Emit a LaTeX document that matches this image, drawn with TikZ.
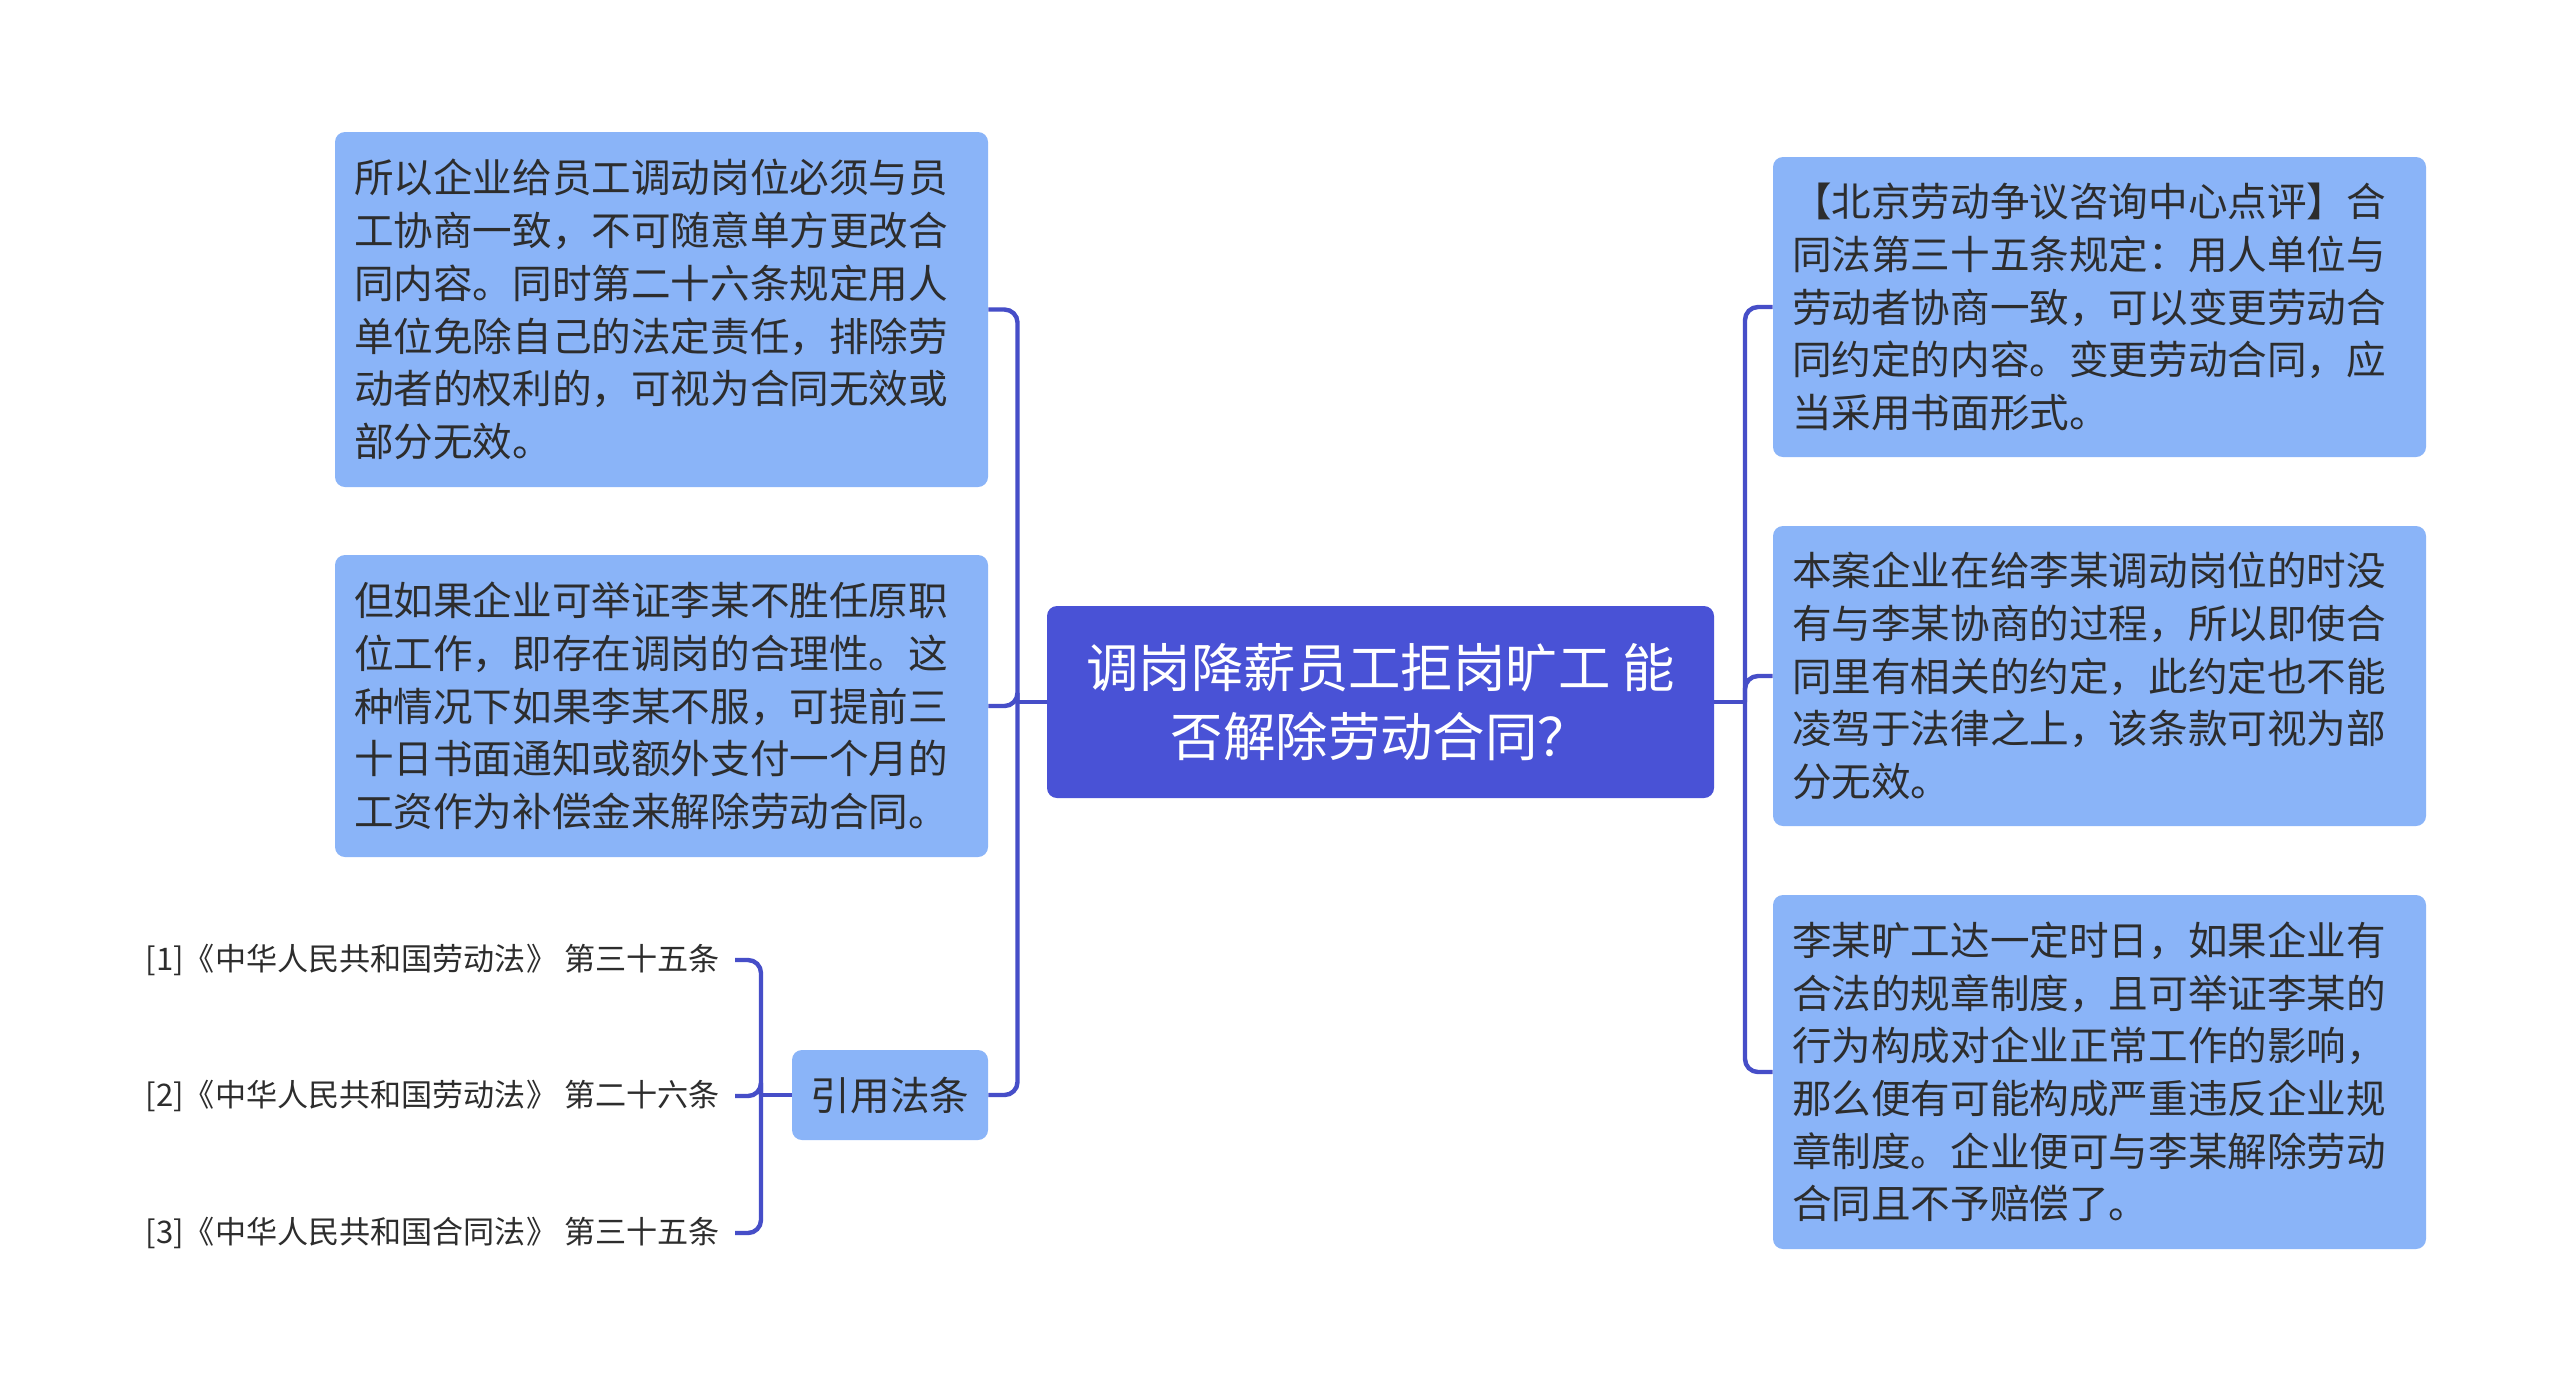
\documentclass[tikz,border=0pt]{standalone}
\usepackage{fontspec}
\setmainfont{Noto Sans CJK SC}
\definecolor{linec}{RGB}{70,78,200}
\definecolor{centerc}{RGB}{73,82,214}
\definecolor{boxc}{RGB}{138,180,248}
\definecolor{txtc}{RGB}{45,45,45}
\begin{document}
\begin{tikzpicture}[x=1pt,y=-1pt,
  conn/.style={draw=linec,line width=2.2pt,rounded corners=6.5pt},
  mainbox/.style={fill=centerc,rounded corners=5pt,minimum width=333.5pt,minimum height=96pt,
    text=white,align=center,inner sep=0pt,font=\fontsize{26.2pt}{34.3pt}\selectfont},
  leafbox/.style={fill=boxc,rounded corners=5pt,text width=307.5pt,inner xsep=9.5pt,inner ysep=0pt,
    text=txtc,align=left,font=\fontsize{19.8pt}{26.35pt}\selectfont},
  citebox/.style={fill=boxc,rounded corners=5pt,minimum width=98pt,minimum height=45pt,inner sep=0pt,
    text=txtc,font=\fontsize{19.8pt}{24pt}\selectfont},
  reftext/.style={anchor=east,inner xsep=7.5pt,inner ysep=2pt,text=txtc,font=\fontsize{15.55pt}{18pt}\selectfont}
]
\useasboundingbox[fill=white] (0,0) rectangle (1280,699.5);

\node[mainbox] (c) at (690.25,351) {调岗降薪员工拒岗旷工 能\\否解除劳动合同？};

\node[leafbox,minimum height=177.5pt] (l1) at (330.75,154.75) {所以企业给员工调动岗位必须与员\\工协商一致，不可随意单方更改合\\同内容。同时第二十六条规定用人\\单位免除自己的法定责任，排除劳\\动者的权利的，可视为合同无效或\\部分无效。};
\node[leafbox,minimum height=151pt] (l2) at (330.75,353) {但如果企业可举证李某不胜任原职\\位工作，即存在调岗的合理性。这\\种情况下如果李某不服，可提前三\\十日书面通知或额外支付一个月的\\工资作为补偿金来解除劳动合同。};
\node[citebox] (cite) at (445,547.5) {引用法条};

\node[reftext] (r1) at (367.5,480) {[1]《中华人民共和国劳动法》 第三十五条};
\node[reftext] (r2) at (367.5,548) {[2]《中华人民共和国劳动法》 第二十六条};
\node[reftext] (r3) at (367.5,616.5) {[3]《中华人民共和国合同法》 第三十五条};

\node[leafbox,minimum height=150pt] (q1) at (1049.75,153.5) {【北京劳动争议咨询中心点评】合\\同法第三十五条规定：用人单位与\\劳动者协商一致，可以变更劳动合\\同约定的内容。变更劳动合同，应\\当采用书面形式。};
\node[leafbox,minimum height=150pt] (q2) at (1049.75,338) {本案企业在给李某调动岗位的时没\\有与李某协商的过程，所以即使合\\同里有相关的约定，此约定也不能\\凌驾于法律之上，该条款可视为部\\分无效。};
\node[leafbox,minimum height=177pt] (q3) at (1049.75,536) {李某旷工达一定时日，如果企业有\\合法的规章制度，且可举证李某的\\行为构成对企业正常工作的影响，\\那么便有可能构成严重违反企业规\\章制度。企业便可与李某解除劳动\\合同且不予赔偿了。};

% left connectors
\coordinate (lt) at (508.75,351);
\draw[conn] (c.west) -- (lt);
\draw[conn] (lt) |- (l1.east);
\draw[conn] (lt) |- (l2.east);
\draw[conn] (lt) |- (cite.east);

% right connectors
\coordinate (rt) at (872.5,351);
\draw[conn] (c.east) -- (rt);
\draw[conn] (rt) |- (q1.west);
\draw[conn] (rt) |- (q2.west);
\draw[conn] (rt) |- (q3.west);

% reference connectors
\coordinate (ct) at (380.5,547.5);
\draw[conn] (cite.west) -- (ct);
\draw[conn] (ct) |- (r1.east);
\draw[conn] (ct) |- (r2.east);
\draw[conn] (ct) |- (r3.east);
\end{tikzpicture}
\end{document}
